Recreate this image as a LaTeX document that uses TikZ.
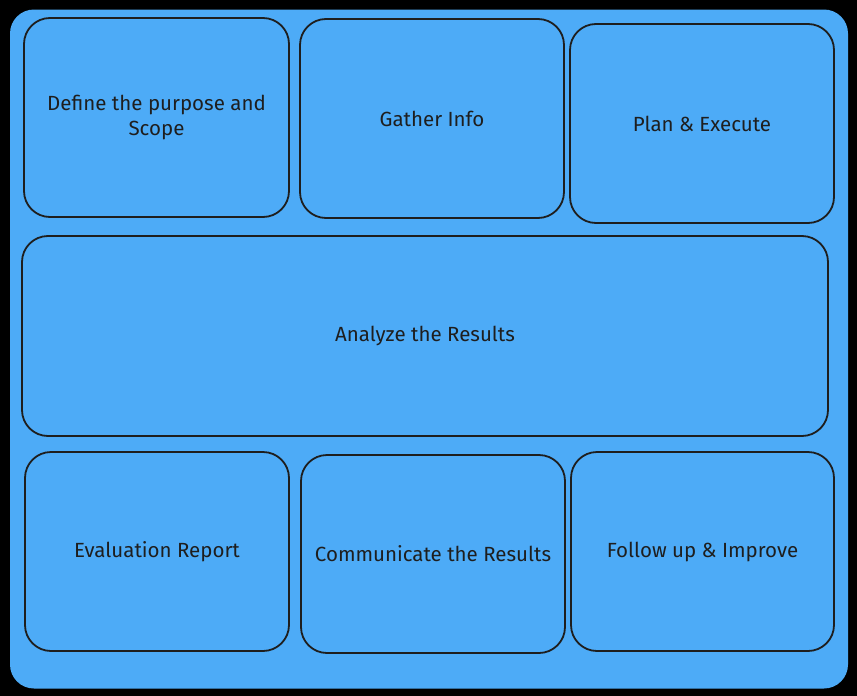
\documentclass[tikz,border=0pt]{standalone}
\usepackage{fontspec}
\setmainfont{Fira Sans}
\definecolor{exblue}{HTML}{4DABF7}
\definecolor{exink}{HTML}{1E1E1E}
\begin{document}
\begin{tikzpicture}[x=1pt,y=-1pt,
  stepbox/.style={draw=exink, line width=1.8pt, fill=exblue, rounded corners=26pt,
    inner sep=0pt, align=center, text=exink,
    font=\fontsize{20.5}{25}\selectfont},
  back/.style={fill=exblue, rounded corners=24pt}]
\useasboundingbox (0,0) rectangle (857,696);
\fill[black] (0,0) rectangle (857,696);
\node[back, minimum width=838pt, minimum height=679pt, inner sep=0pt] (frame) at (429,349) {};
\node[stepbox, minimum width=265pt, minimum height=199pt] (define) at (156.5,117.5) {Define the purpose and\\Scope};
\node[stepbox, minimum width=264pt, minimum height=199pt] (gather) at (432,118.5) {Gather Info};
\node[stepbox, minimum width=264pt, minimum height=199pt] (plan) at (702,123.5) {Plan \& Execute};
\node[stepbox, minimum width=806pt, minimum height=200pt] (analyze) at (425,336) {Analyze the Results};
\node[stepbox, minimum width=264pt, minimum height=199pt] (report) at (157,551.5) {Evaluation Report};
\node[stepbox, minimum width=264pt, minimum height=198pt] (comm) at (433,554) {Communicate the Results};
\node[stepbox, minimum width=263pt, minimum height=199pt] (follow) at (702.5,551.5) {Follow up \& Improve};
\end{tikzpicture}
\end{document}
